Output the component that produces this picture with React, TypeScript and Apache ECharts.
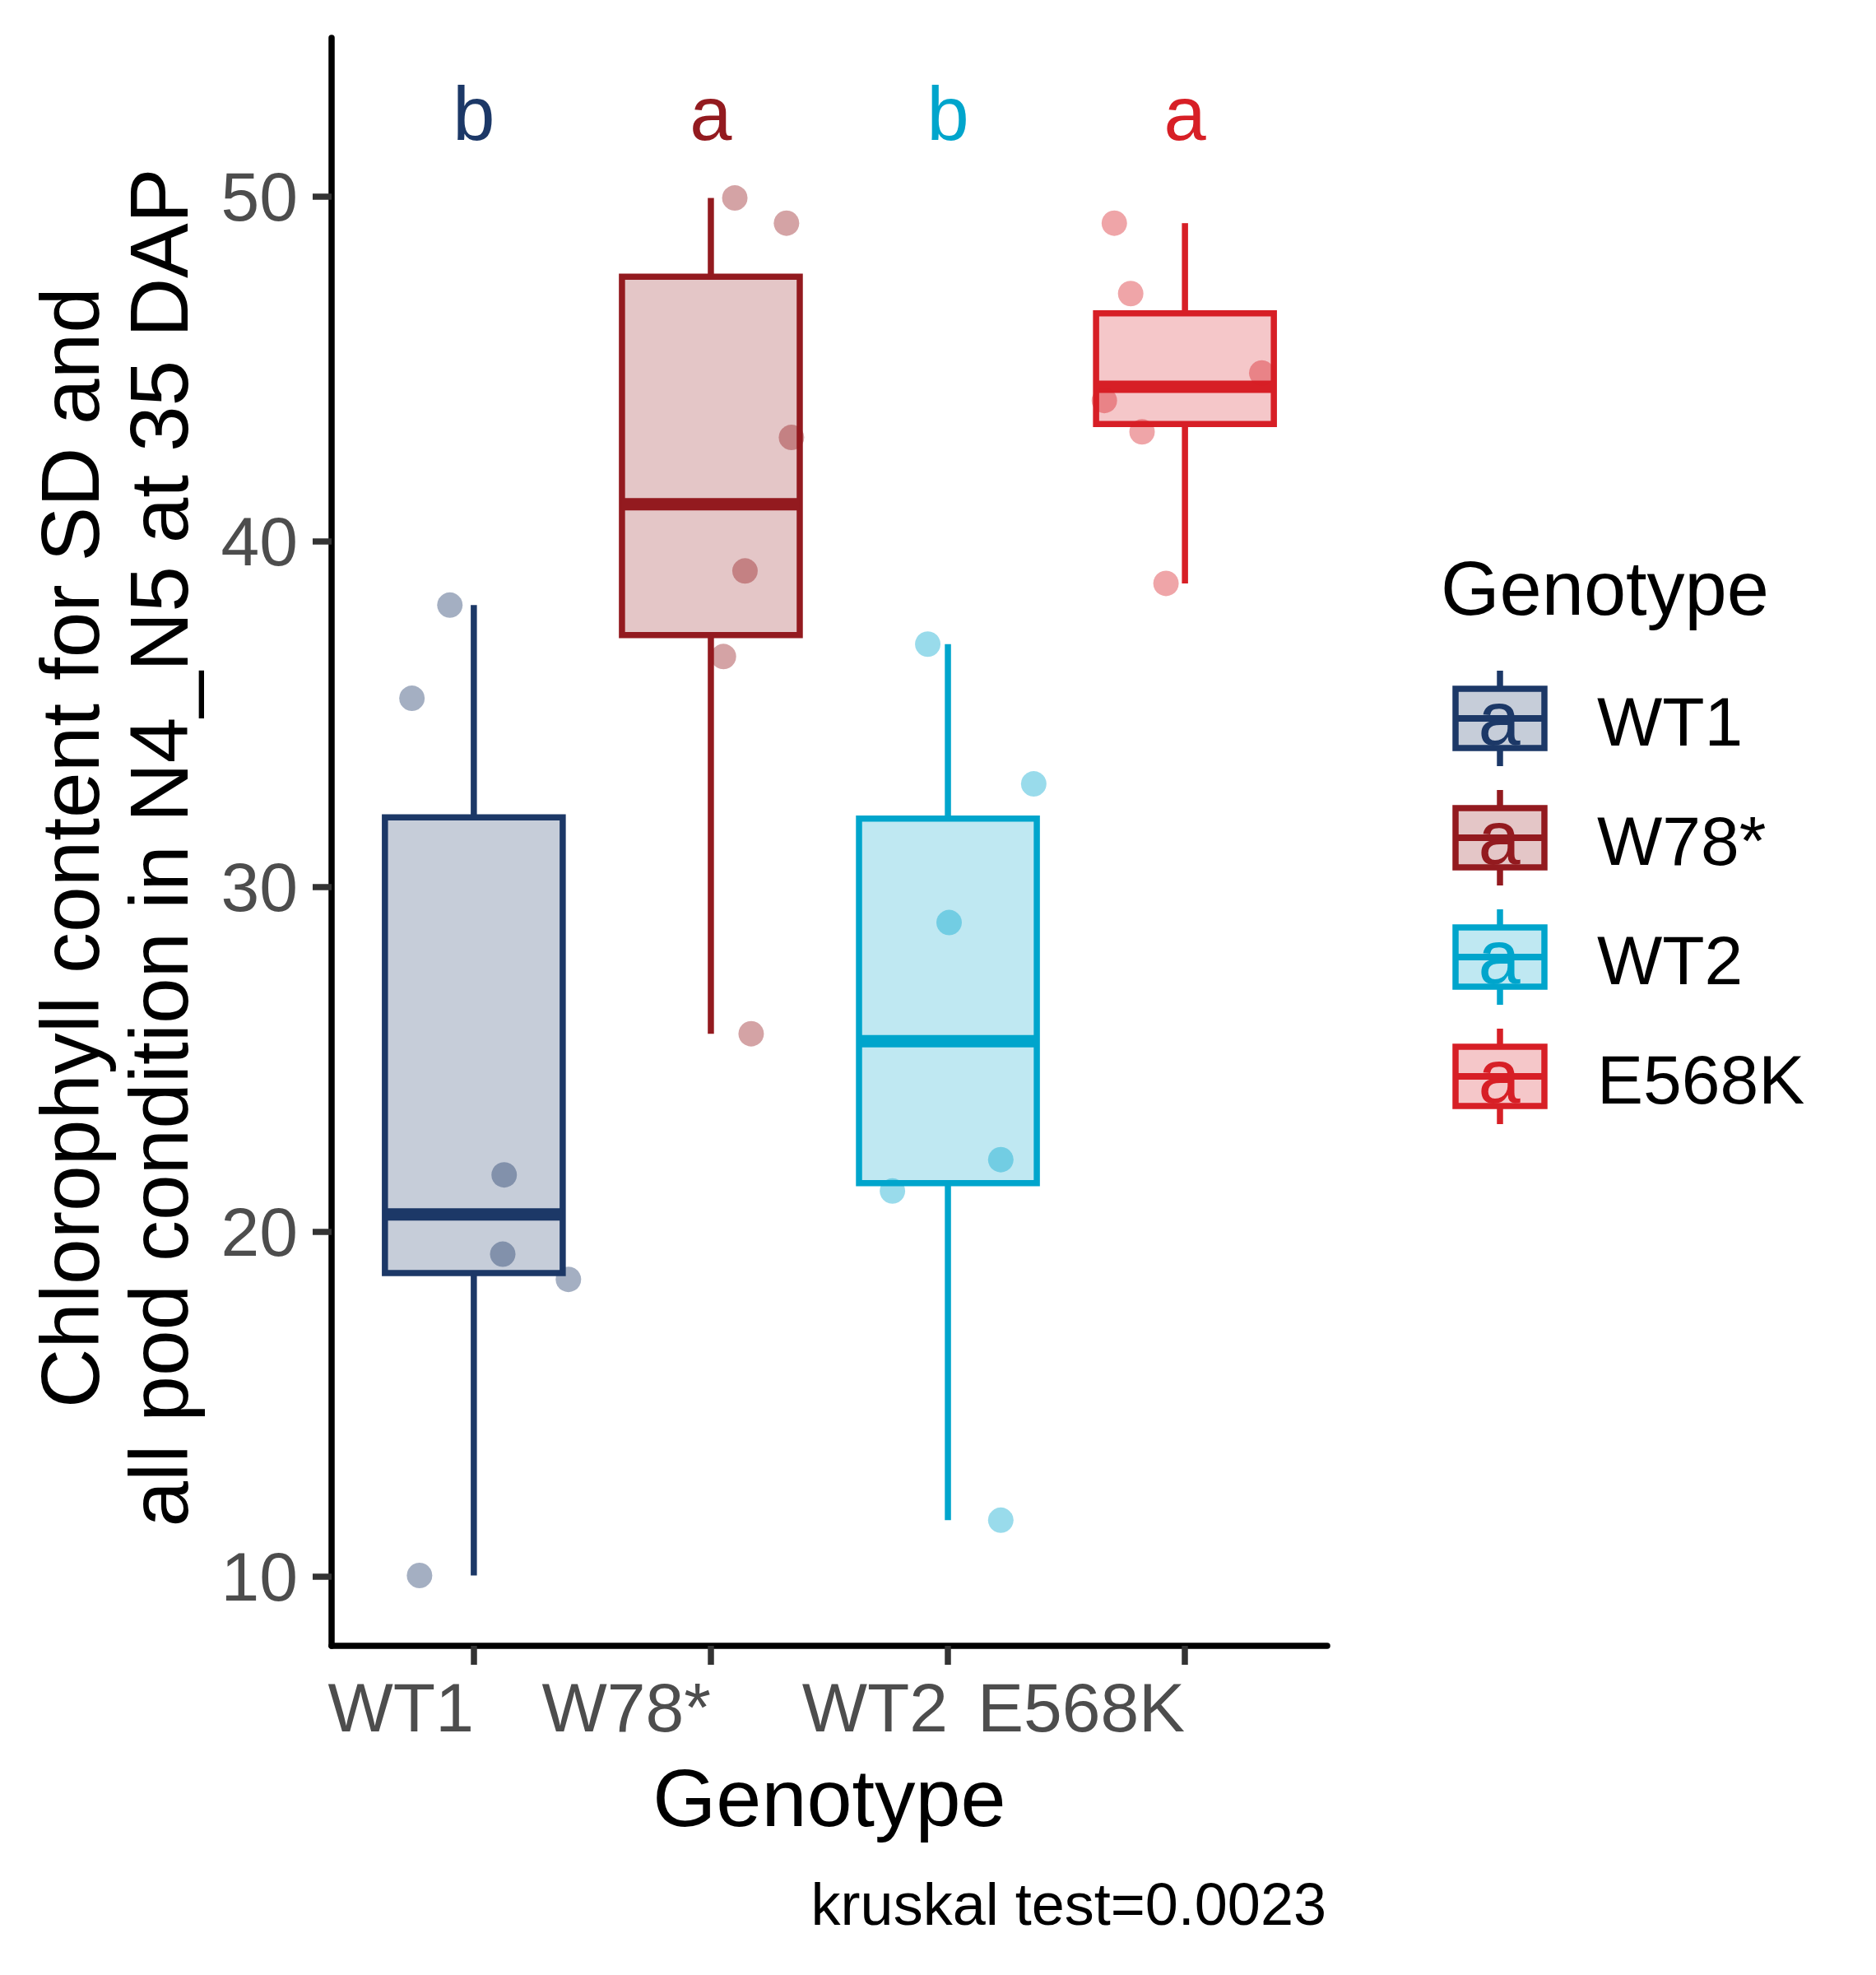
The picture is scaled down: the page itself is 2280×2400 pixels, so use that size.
import React, { useEffect, useRef } from "react";
import * as echarts from "echarts";

// ---------- data ----------
const categories = ["WT1", "W78*", "WT2", "E568K"];
const groupColors = ["#1C3867", "#931A1F", "#00A5CC", "#D71F26"];
const groupLetters = ["b", "a", "b", "a"];
const letterHeight = [52.4, 52.4, 52.4, 52.4];

const wt1Values = [10.04, 18.62, 19.35, 21.65, 35.46, 38.16];
const wt1Jitter = [-0.229, 0.399, 0.122, 0.128, -0.261, -0.101];
const w78Values = [25.74, 36.67, 39.15, 43.02, 49.23, 49.96];
const w78Jitter = [0.17, 0.053, 0.144, 0.34, 0.319, 0.101];
const wt2Values = [11.64, 21.18, 22.09, 28.96, 32.98, 37.03];
const wt2Jitter = [0.223, -0.234, 0.223, 0.005, 0.362, -0.085];
const e568kValues = [38.79, 43.18, 44.09, 44.89, 47.19, 49.23];
const e568kJitter = [-0.08, -0.181, -0.34, 0.324, -0.229, -0.298];

const groupValues = [wt1Values, w78Values, wt2Values, e568kValues];
const groupJitter = [wt1Jitter, w78Jitter, wt2Jitter, e568kJitter];

const xTicks = [1, 2, 3, 4];
const yTicks = [10, 20, 30, 40, 50];
const xTitle = "Genotype";
const yTitle = "Chlorophyll content for SD and\nall pod condition in N4_N5 at 35 DAP";
const legendTitle = "Genotype";
const legendGlyph = "a";
const kruskalText = "kruskal test=0.0023";

// ---------- helpers ----------
const FONT = "'Liberation Sans', Arial, Helvetica, sans-serif";

function rgba(hex: string, a: number) {
  const r = parseInt(hex.slice(1, 3), 16);
  const g = parseInt(hex.slice(3, 5), 16);
  const b = parseInt(hex.slice(5, 7), 16);
  return `rgba(${r},${g},${b},${a})`;
}

function quantile(sorted: number[], p: number) {
  const h = (sorted.length - 1) * p;
  const lo = Math.floor(h);
  const hi = Math.ceil(h);
  return sorted[lo] + (h - lo) * (sorted[hi] - sorted[lo]);
}

function boxStats(values: number[]) {
  const s = [...values].sort((a, b) => a - b);
  const q1 = quantile(s, 0.25);
  const med = quantile(s, 0.5);
  const q3 = quantile(s, 0.75);
  const iqr = q3 - q1;
  const lo = Math.min(...s.filter((v) => v >= q1 - 1.5 * iqr));
  const hi = Math.max(...s.filter((v) => v <= q3 + 1.5 * iqr));
  return [lo, q1, med, q3, hi];
}

const LW = 7.5;

export default function App() {
  const ref = useRef<HTMLDivElement>(null);

  useEffect(() => {
    if (!ref.current) return;
    const chart = echarts.init(ref.current, undefined, { renderer: "svg" });

    const boxData = categories.map((_, i) => [xTicks[i], ...boxStats(groupValues[i]), i]);
    const letterData = categories.map((_, i) => [xTicks[i], letterHeight[i], i]);

    const scatterSeries = categories.map((name, i) => ({
      type: "scatter",
      name,
      symbol: "circle",
      symbolSize: 31,
      silent: true,
      z: 3,
      itemStyle: { color: rgba(groupColors[i], 0.5) },
      data: groupValues[i].map((v, k) => [xTicks[i] + groupJitter[i][k], v]),
    }));

    const legendEls: any[] = [];
    categories.forEach((name, i) => {
      const c = groupColors[i];
      const cy = 873 + i * 145;
      const cx = 1823;
      legendEls.push(
        { type: "line", shape: { x1: cx, y1: cy - 58, x2: cx, y2: cy - 36 }, style: { stroke: c, lineWidth: LW } },
        { type: "line", shape: { x1: cx, y1: cy + 36, x2: cx, y2: cy + 58 }, style: { stroke: c, lineWidth: LW } },
        {
          type: "rect",
          shape: { x: cx - 54, y: cy - 36, width: 108, height: 72 },
          style: { fill: rgba(c, 0.25), stroke: c, lineWidth: LW },
        },
        { type: "line", shape: { x1: cx - 54, y1: cy, x2: cx + 54, y2: cy }, style: { stroke: c, lineWidth: 8 } },
        {
          type: "text",
          x: cx - 1,
          y: cy,
          style: { text: legendGlyph, fill: c, fontSize: 92, fontFamily: FONT, align: "center", verticalAlign: "middle" },
        },
        {
          type: "text",
          x: 1941,
          y: cy + 4,
          style: { text: name, fill: "#000", fontSize: 84, fontFamily: FONT, align: "left", verticalAlign: "middle" },
        }
      );
    });

    const option: any = {
      animation: false,
      backgroundColor: "#ffffff",
      grid: { left: 403, right: 667, top: 46, bottom: 400, containLabel: false },
      xAxis: {
        type: "value",
        min: 0.4,
        max: 4.6,
        axisLine: { show: true, onZero: false, lineStyle: { color: "#000", width: LW } },
        axisTick: { show: true, customValues: xTicks, length: 23, lineStyle: { color: "#333333", width: LW } },
        axisLabel: {
          show: true,
          customValues: xTicks,
          formatter: (v: number) => categories[Math.round(v) - 1] ?? "",
          align: "right",
          color: "#4D4D4D",
          fontSize: 84,
          fontFamily: FONT,
          margin: 33,
        },
        splitLine: { show: false },
      },
      yAxis: {
        type: "value",
        min: 8.0,
        max: 54.6,
        axisLine: { show: true, onZero: false, lineStyle: { color: "#000", width: LW } },
        axisTick: { show: true, customValues: yTicks, length: 23, lineStyle: { color: "#333333", width: LW } },
        axisLabel: {
          show: true,
          customValues: yTicks,
          color: "#4D4D4D",
          fontSize: 84,
          fontFamily: FONT,
          margin: 41,
        },
        splitLine: { show: false },
      },
      series: [
        {
          type: "custom",
          name: "box",
          silent: true,
          z: 2,
          clip: false,
          encode: { x: 0, y: [1, 2, 3, 4, 5] },
          data: boxData,
          renderItem: (params: any, api: any) => {
            const x = api.value(0);
            const lo = api.value(1);
            const q1 = api.value(2);
            const med = api.value(3);
            const q3 = api.value(4);
            const hi = api.value(5);
            const c = groupColors[api.value(6)];
            const half = 0.375;
            const pLT = api.coord([x - half, q3]);
            const pRB = api.coord([x + half, q1]);
            const pHi = api.coord([x, hi]);
            const pLo = api.coord([x, lo]);
            const pMl = api.coord([x - half, med]);
            const pMr = api.coord([x + half, med]);
            return {
              type: "group",
              children: [
                { type: "line", shape: { x1: pHi[0], y1: pHi[1], x2: pHi[0], y2: pLT[1] }, style: { stroke: c, lineWidth: LW } },
                { type: "line", shape: { x1: pLo[0], y1: pRB[1], x2: pLo[0], y2: pLo[1] }, style: { stroke: c, lineWidth: LW } },
                {
                  type: "rect",
                  shape: { x: pLT[0], y: pLT[1], width: pRB[0] - pLT[0], height: pRB[1] - pLT[1] },
                  style: { fill: rgba(c, 0.25), stroke: c, lineWidth: LW },
                },
                { type: "line", shape: { x1: pMl[0], y1: pMl[1], x2: pMr[0], y2: pMr[1] }, style: { stroke: c, lineWidth: 15 } },
              ],
            };
          },
        },
        ...scatterSeries,
        {
          type: "custom",
          name: "letters",
          silent: true,
          z: 4,
          clip: false,
          encode: { x: 0, y: 1 },
          data: letterData,
          renderItem: (params: any, api: any) => {
            const p = api.coord([api.value(0), api.value(1)]);
            const gi = api.value(2);
            return {
              type: "text",
              x: p[0],
              y: p[1],
              style: {
                text: groupLetters[gi],
                fill: groupColors[gi],
                fontSize: 92,
                fontFamily: FONT,
                align: "center",
                verticalAlign: "middle",
              },
            };
          },
        },
      ],
      graphic: {
        elements: [
          {
            type: "text",
            x: 139,
            y: 1030,
            rotation: Math.PI / 2,
            style: {
              text: yTitle,
              fill: "#000",
              fontSize: 100,
              lineHeight: 108,
              fontFamily: FONT,
              align: "center",
              verticalAlign: "middle",
            },
          },
          {
            type: "text",
            x: 1008,
            y: 2184,
            style: { text: xTitle, fill: "#000", fontSize: 99, fontFamily: FONT, align: "center", verticalAlign: "middle" },
          },
          {
            type: "text",
            x: 1751,
            y: 715,
            style: { text: legendTitle, fill: "#000", fontSize: 92, fontFamily: FONT, align: "left", verticalAlign: "middle" },
          },
          {
            type: "text",
            x: 1612,
            y: 2314,
            style: { text: kruskalText, fill: "#000", fontSize: 72, fontFamily: FONT, align: "right", verticalAlign: "middle" },
          },
          ...legendEls,
        ],
      },
    };

    chart.setOption(option);
    return () => chart.dispose();
  }, []);

  return (
    <div
      ref={ref}
      style={{ position: "absolute", left: 0, top: 0, width: 2280, height: 2400, background: "#fff" }}
    />
  );
}
